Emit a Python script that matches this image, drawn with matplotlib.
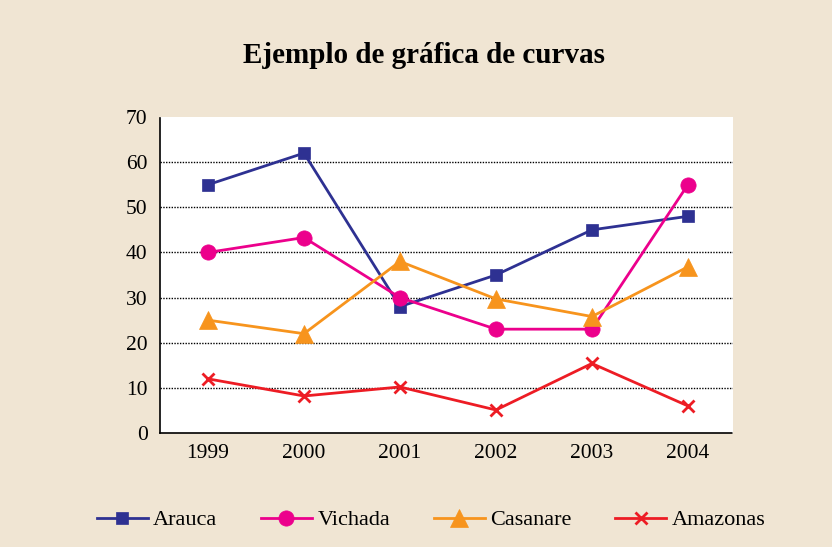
import matplotlib.pyplot as plt
import numpy as np

years = ['1999', '2000', '2001', '2002', '2003', '2004']
arauca = [55, 62, 28, 35, 45, 48]
vichada = [40, 43.3, 30, 23, 23, 55]
casanare = [25, 22, 38, 29.7, 25.8, 36.8]
amazonas = [12, 8.2, 10.2, 5.1, 15.4, 6]

series = [
    ('Arauca', arauca, '#2E3192', 's', 9),
    ('Vichada', vichada, '#EC008C', 'o', 11),
    ('Casanare', casanare, '#F7941D', '^', 13),
    ('Amazonas', amazonas, '#ED1C24', 'x', 9),
]

bg = '#F0E5D3'
plt.rcParams['font.family'] = ['Liberation Serif', 'DejaVu Serif']

fig = plt.figure(figsize=(8.32, 5.47), dpi=100, facecolor=bg)
ax = fig.add_axes([160 / 832, 114 / 547, 573 / 832, 316 / 547])
ax.set_facecolor('white')

x = np.arange(len(years))
for name, vals, col, mk, ms in series:
    ax.plot(x, vals, color=col, lw=2, marker=mk, markersize=ms,
            markeredgewidth=2 if mk == 'x' else 0.5, label=name)

ax.set_xlim(-0.5, 5.47)
ax.set_ylim(0, 70)
ax.set_yticks(range(0, 71, 10))
ax.set_xticks(x)
ax.set_xticklabels(years)
ax.tick_params(axis='both', labelsize=15.5, length=0, pad=8)
ax.tick_params(axis='y', pad=9)

for y in range(10, 70, 10):
    ax.axhline(y, color='black', lw=1, ls=(0, (1, 1)), zorder=0)

for s in ['top', 'right']:
    ax.spines[s].set_visible(False)
for s in ['left', 'bottom']:
    ax.spines[s].set_linestyle((0, (1, 1)))
    ax.spines[s].set_linewidth(1.2)

fig.text(0.51, 0.898, 'Ejemplo de gráfica de curvas', ha='center', va='center',
         fontsize=21, fontweight='bold')

fig.legend(loc='center', bbox_to_anchor=(0.518, 0.049), ncol=4, frameon=False,
           fontsize=16, handlelength=2.3, handletextpad=0.25, columnspacing=1.95)

fig.savefig('out.png', dpi=100, facecolor=bg)
